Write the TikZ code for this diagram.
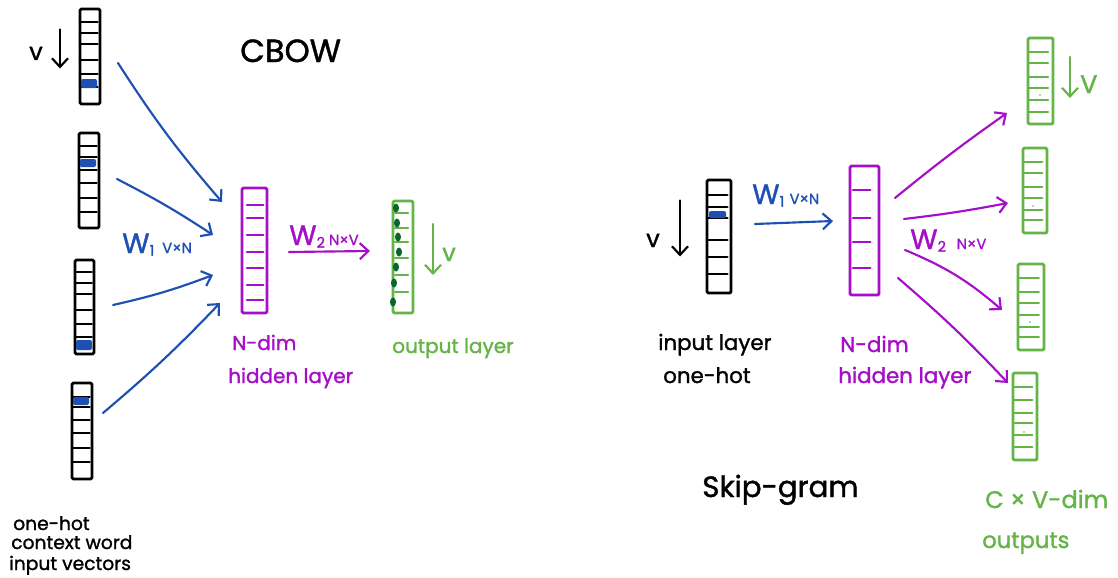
\documentclass[tikz,border=0pt]{standalone}
\usepackage{fontspec}
\setmainfont{Poppins}[FakeBold=1.3]
\usetikzlibrary{arrows.meta,calc,fit}
\definecolor{sblue}{RGB}{30,80,180}
\definecolor{spurple}{RGB}{165,15,200}
\definecolor{sgreen}{RGB}{100,180,70}
\definecolor{dgreen}{RGB}{10,100,45}
\tikzset{
  vecbox/.style={line width=2.2pt, inner sep=0pt, outer sep=0pt, rounded corners=1pt, line join=round},
  tickline/.style={line width=1.9pt, line cap=round},
  hand/.style={line width=1.6pt, line cap=round, -{Straight Barb[length=6.5pt,width=12pt]}},
  lbl/.style={inner sep=0pt, anchor=base west, font=\fontsize{15}{18}\selectfont},
  small/.style={inner sep=0pt, anchor=base west, font=\fontsize{14}{16}\selectfont},
  blob/.style={rounded corners=1.5pt},
}
% name, x1, y1, x2, y2, colour, tick ys, tick start fraction, tick end fraction
\newcommand{\layervec}[9]{%
  \node[vecbox, draw=#6, fit={(#2,#3) (#4,#5)}] (#1) {};
  \foreach \ty in {#7} \draw[#6, tickline] ({#2+#8*(#4-#2)},\ty) -- ({#2+#9*(#4-#2)},\ty);
}
\newcommand{\wlabel}[3]{{\fontsize{21}{21}\selectfont W}{\fontsize{11}{11}\selectfont\raisebox{-2pt}{#1}\hspace{#3}#2}}
\begin{document}
\begin{tikzpicture}[x=0.75pt,y=-0.75pt]
\useasboundingbox[fill=white] (0,0) rectangle (1118,578);

% ---------------- CBOW ----------------
\node[lbl, font=\fontsize{24}{24}\selectfont] (tcbow) at (240,62) {CBOW};

\layervec{in1}{80}{9}{100}{104}{black}{22,33,44,60,74,87}{0}{0.88}
\layervec{in2}{79}{133}{99}{228}{black}{146,157,170,183,198,212}{0}{0.88}
\layervec{in3}{75}{260}{94}{354}{black}{272,283,294,310,324,337}{0}{0.88}
\layervec{in4}{72}{383}{92}{479}{black}{397,407,420,433,448,462}{0}{0.88}
\fill[sblue, blob] (81,79) rectangle (97,88);
\fill[sblue, blob] (80,159) rectangle (96,167);
\fill[sblue, blob] (76,340) rectangle (92,350);
\fill[sblue, blob] (73,397) rectangle (89,405);

\node[lbl, font=\fontsize{18}{18}\selectfont] (vin) at (29,60) {v};
\coordinate (vinA) at ($(in1.west)+(-20,-27)$);
\coordinate (vinB) at ($(in1.west)+(-20,12)$);
\draw[hand, black] (vinA) -- (vinB);

\node[small] (l1) at (13,530) {one-hot};
\node[small] (l2) at (11,549) {context word};
\node[small] (l3) at (9,570) {input vectors};

\layervec{hid1}{242}{188}{267}{313}{spurple}{205,218,235,252,268,285,300}{0.2}{0.85}
\node[lbl, text=spurple] (hd1) at (232,350) {N-dim};
\node[lbl, text=spurple] (hd2) at (228,383) {hidden layer};

\layervec{out1}{393}{201}{413}{313}{sgreen}{213,228,242,258,275,292}{0.1}{0.75}
\foreach \px/\py in {396/208,397/223,398/237,399/252,396/267,394/283,393/302}
  \fill[dgreen] (\px,\py) ellipse (3 and 4.5);
\node[lbl, text=sgreen] (ol) at (392,353) {output layer};
\coordinate (gvA) at ($(out1.east)+(20,-33)$);
\coordinate (gvB) at ($(out1.east)+(20,18)$);
\draw[hand, sgreen] (gvA) -- (gvB);
\node[lbl, text=sgreen, font=\fontsize{18}{18}\selectfont] (gv) at (442,261) {v};

% input -> hidden
\coordinate (a1s) at ($(in1.east)+(18,6.5)$);
\coordinate (a1e) at ($(hid1.north west)+(-20,14)$);
\coordinate (a2s) at ($(in2.east)+(18,-1.5)$);
\coordinate (a2e) at ($(hid1.west)+(-29,-15.5)$);
\coordinate (a3s) at ($(in3.east)+(19,-2)$);
\coordinate (a3e) at ($(hid1.west)+(-29,24.5)$);
\coordinate (a4s) at ($(in4.east)+(11,-18)$);
\coordinate (a4e) at ($(hid1.south west)+(-22,-10)$);
\draw[hand, sblue] (a1s) to[bend right=4] (a1e);
\draw[hand, sblue] (a2s) to[bend left=3] (a2e);
\draw[hand, sblue] (a3s) to[bend right=4] (a3e);
\draw[hand, sblue] (a4s) to[bend right=3] (a4e);
\node[inner sep=0pt, anchor=base west, text=sblue] (w1a) at (122,253) {\wlabel{1}{V\texttimes N}{6pt}};

% hidden -> output
\coordinate (b1s) at ($(hid1.east)+(22,1.5)$);
\coordinate (b1e) at ($(out1.west)+(-23,-6)$);
\draw[hand, spurple] (b1s) -- (b1e);
\node[inner sep=0pt, anchor=base west, text=spurple] (w2a) at (289,245) {\wlabel{2}{N\texttimes V}{3pt}};

% ---------------- Skip-gram ----------------
\node[lbl, font=\fontsize{22}{22}\selectfont] (tskip) at (702,497) {Skip-gram};

\layervec{sin}{707}{180}{731}{293}{black}{195,207,218,240,257,274}{0}{0.85}
\fill[sblue, blob] (709,211) rectangle (726,218);
\node[lbl, font=\fontsize{18}{18}\selectfont] (sv) at (646,247) {v};
\coordinate (svA) at ($(sin.west)+(-27,-36)$);
\coordinate (svB) at ($(sin.west)+(-27,20)$);
\draw[hand, black] (svA) -- (svB);
\node[lbl, font=\fontsize{16}{18}\selectfont] (il1) at (658,350) {input layer};
\node[lbl, font=\fontsize{16}{18}\selectfont] (il2) at (663,383) {one-hot};

\layervec{shid}{850}{166}{879}{295}{spurple}{190,218,242,268}{0.1}{0.7}
\node[lbl, text=spurple, font=\fontsize{16}{18}\selectfont] (shd1) at (840,352) {N-dim};
\node[lbl, text=spurple, font=\fontsize{16}{18}\selectfont] (shd2) at (838,383) {hidden layer};

\coordinate (c1s) at ($(sin.east)+(24,-12.5)$);
\coordinate (c1e) at ($(shid.west)+(-17,-9.5)$);
\draw[hand, sblue] (c1s) -- (c1e);
\node[inner sep=0pt, anchor=base west, text=sblue] (w1b) at (752,204) {\wlabel{1}{V\texttimes N}{4pt}};

\layervec{so1}{1028}{38}{1053}{124}{sgreen}{52,63,77,88,100,112}{0.05}{0.8}
\layervec{so2}{1023}{148}{1047}{233}{sgreen}{162,173,187,198,210,220}{0.05}{0.8}
\layervec{so3}{1018}{264}{1044}{350}{sgreen}{278,292,303,315,327,337}{0.05}{0.8}
\layervec{so4}{1013}{373}{1037}{460}{sgreen}{387,400,413,423,435,447}{0.05}{0.8}
\fill[sgreen] (1040,95) circle (0.9);
\fill[sgreen] (1033,206) circle (0.9);
\fill[sgreen] (1030,322) circle (0.9);
\fill[sgreen] (1024,432) circle (0.9);

\coordinate (gsA) at ($(so1.east)+(17,-24)$);
\coordinate (gsB) at ($(so1.east)+(17,17)$);
\draw[hand, sgreen] (gsA) -- (gsB);
\node[lbl, text=sgreen, font=\fontsize{19}{19}\selectfont] (gsv) at (1080,93) {V};

\coordinate (d1s) at ($(shid.east)+(16,-32.5)$);
\coordinate (d1e) at ($(so1.west)+(-21,32)$);
\coordinate (d2s) at ($(shid.east)+(25,-11.5)$);
\coordinate (d2e) at ($(so2.west)+(-15,12.5)$);
\coordinate (d3s) at ($(shid.east)+(26,19.5)$);
\coordinate (d3e) at ($(so3.west)+(-16,3)$);
\coordinate (d4s) at ($(shid.east)+(19,47.5)$);
\coordinate (d4e) at ($(so4.west)+(-5,-33.5)$);
\draw[hand, spurple] (d1s) to[bend left=2] (d1e);
\draw[hand, spurple] (d2s) to[bend right=2] (d2e);
\draw[hand, spurple] (d3s) to[bend left=9] (d3e);
\draw[hand, spurple] (d4s) to[bend left=3] (d4e);
\node[inner sep=0pt, anchor=base west, text=spurple] (w2b) at (910,249) {\wlabel{2}{N\texttimes V}{8pt}};

\node[lbl, text=sgreen, font=\fontsize{18}{18}\selectfont] (cv1) at (985,508) {C \texttimes{} V-dim};
\node[lbl, text=sgreen, font=\fontsize{17}{18}\selectfont] (cv2) at (982,548) {outputs};
\end{tikzpicture}
\end{document}
